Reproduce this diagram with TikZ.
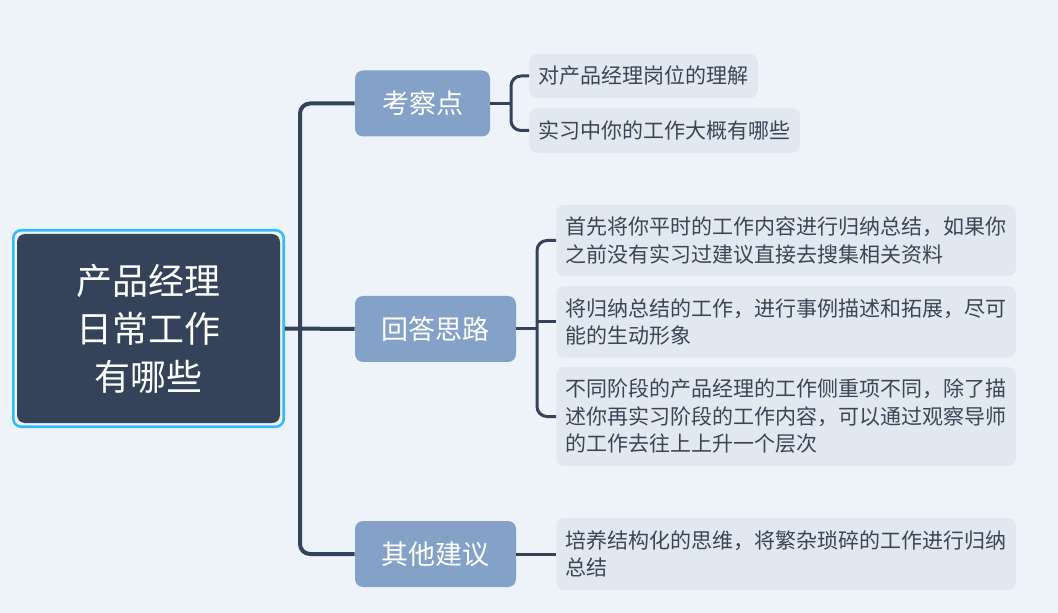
\documentclass[tikz,border=0pt]{standalone}
\usepackage{fontspec}
\setmainfont{Noto Sans CJK SC}
\usetikzlibrary{fit}
\definecolor{bg}{HTML}{EEF3FA}
\definecolor{rootfill}{HTML}{344359}
\definecolor{branchfill}{HTML}{84A1C8}
\definecolor{leaffill}{HTML}{E1E8F0}
\definecolor{leaftext}{HTML}{3A4555}
\definecolor{linec}{HTML}{34435A}
\definecolor{framec}{HTML}{33BBF7}
\tikzset{
  rootbox/.style={fill=rootfill, rounded corners=6pt, text=white, align=center,
    font=\fontsize{27pt}{36pt}\selectfont, minimum width=197.25pt, minimum height=141.75pt, inner sep=0pt},
  rootframe/.style={draw=framec, line width=1.9pt, rounded corners=6pt, inner sep=2.6pt},
  branchbox/.style={fill=branchfill, rounded corners=6pt, text=white,
    font=\fontsize{20.25pt}{24pt}\selectfont, minimum height=49.5pt, inner sep=0pt},
  leafbox/.style={fill=leaffill, rounded corners=6pt, text=leaftext, align=left,
    font=\fontsize{15.75pt}{20.6pt}\selectfont, inner xsep=7pt, inner ysep=0pt},
  mainline/.style={draw=linec, line width=3pt, rounded corners=7.5pt},
  subline/.style={draw=linec, line width=2.25pt, rounded corners=7.5pt},
}
\begin{document}
\begin{tikzpicture}[x=0.75pt,y=-0.75pt]
\fill[bg] (0,0) rectangle (1058,613);
\useasboundingbox (0,0) rectangle (1058,613);

% root
\node[rootbox] (root) at (148.5,328.5) {产品经理\\日常工作\\有哪些};
\node[rootframe, fit=(root)] (rootfr) {};

% branches
\node[branchbox, minimum width=101.25pt] (kcd) at (422.5,103.5) {考察点};
\node[branchbox, minimum width=120.75pt] (hdsl) at (435.5,329) {回答思路};
\node[branchbox, minimum width=120.75pt] (qtjy) at (435.5,554) {其他建议};

% spine coordinates
\coordinate (sp) at (300,328);
\coordinate (b1) at (511,100);
\coordinate (b2) at (537,330);

% leaves of 考察点
\node[leafbox, anchor=west, minimum height=33pt] (c1) at (529,76) {对产品经理岗位的理解};
\node[leafbox, anchor=west, minimum height=33.4pt] (c2) at (529,130.5) {实习中你的工作大概有哪些};

% leaves of 回答思路
\node[leafbox, anchor=west, minimum height=53.6pt] (d1) at (556,240.5) {首先将你平时的工作内容进行归纳总结，如果你\\之前没有实习过建议直接去搜集相关资料};
\node[leafbox, anchor=west, minimum height=53.6pt] (d2) at (556,321.8) {将归纳总结的工作，进行事例描述和拓展，尽可\\能的生动形象};
\node[leafbox, anchor=west, minimum height=74.2pt] (d3) at (556,416.5) {不同阶段的产品经理的工作侧重项不同，除了描\\述你再实习阶段的工作内容，可以通过观察导师\\的工作去往上上升一个层次};

% leaf of 其他建议
\node[leafbox, anchor=west, minimum height=54pt] (e1) at (556,554) {培养结构化的思维，将繁杂琐碎的工作进行归纳\\总结};

% main connectors
\draw[mainline] (kcd.west) -- (kcd.west -| sp) -- (qtjy.west -| sp) -- (qtjy.west);
\draw[mainline] (rootfr.east) -- (hdsl.west);

% sub connectors
\draw[subline] (kcd.east) -- (kcd.east -| b1);
\draw[subline] (c1.west) -- (c1.west -| b1) -- (c2.west -| b1) -- (c2.west);
\draw[subline] (hdsl.east) -- (hdsl.east -| b2);
\draw[subline] (d1.west) -- (d1.west -| b2) -- (d3.west -| b2) -- (d3.west);
\draw[subline] (d2.west -| b2) -- (d2.west);
\draw[subline] (qtjy.east) -- (e1.west);
\end{tikzpicture}
\end{document}
